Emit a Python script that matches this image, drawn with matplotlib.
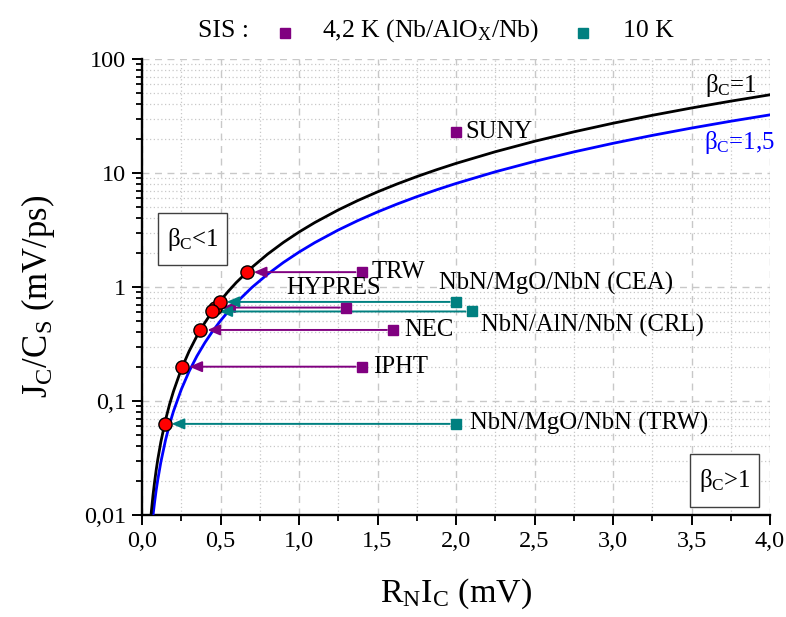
import matplotlib
matplotlib.use("Agg")
import matplotlib.pyplot as plt
from matplotlib.ticker import FixedLocator, FuncFormatter, MultipleLocator, LogLocator
from matplotlib.lines import Line2D
from matplotlib.patches import Rectangle

plt.rcParams['font.family'] = ['Liberation Serif', 'DejaVu Serif']
plt.rcParams['mathtext.fontset'] = 'custom'
plt.rcParams['mathtext.rm'] = 'Liberation Serif'
plt.rcParams['mathtext.it'] = 'Liberation Serif:italic'
plt.rcParams['mathtext.bf'] = 'Liberation Serif:bold'

# ---- data ----
curve_x = [0.05, 0.06, 0.07, 0.08, 0.09, 0.10, 0.12, 0.15, 0.175, 0.20, 0.25, 0.30, 0.35,
           0.40, 0.45, 0.50, 0.55, 0.60, 0.70, 0.80, 0.90, 1.00, 1.10, 1.25, 1.375, 1.50,
           1.625, 1.75, 1.875, 2.00, 2.25, 2.50, 2.75, 3.00, 3.25, 3.50, 3.75, 4.00]
beta1_y = [0.0076, 0.0109, 0.0149, 0.0194, 0.0246, 0.0304, 0.0437, 0.0683, 0.0929, 0.121,
           0.190, 0.273, 0.372, 0.486, 0.615, 0.759, 0.918, 1.093, 1.487, 1.942, 2.458, 3.035,
           3.672, 4.742, 5.738, 6.829, 8.014, 9.295, 10.67, 12.14, 15.36, 18.97, 22.95, 27.32,
           32.06, 37.18, 42.68, 48.56]
beta15_y = [0.0051, 0.0073, 0.0099, 0.0129, 0.0164, 0.0202, 0.0291, 0.0455, 0.0620, 0.0809,
            0.126, 0.182, 0.248, 0.324, 0.410, 0.506, 0.612, 0.728, 0.991, 1.295, 1.639, 2.023,
            2.448, 3.161, 3.825, 4.552, 5.342, 6.196, 7.112, 8.092, 10.24, 12.64, 15.30, 18.21,
            21.37, 24.78, 28.45, 32.37]

nb_names = ['TRW', 'HYPRES', 'NEC', 'IPHT', 'SUNY']
nb_rnic = [1.40, 1.30, 1.60, 1.40, 2.00]
nb_jc = [1.35, 0.66, 0.42, 0.20, 23.0]
nb_proj_x = [0.667, 0.466, 0.372, 0.257, None]

nbn_names = ['NbN/MgO/NbN (CEA)', 'NbN/AlN/NbN (CRL)', 'NbN/MgO/NbN (TRW)']
nbn_rnic = [2.00, 2.10, 2.00]
nbn_jc = [0.74, 0.61, 0.063]
nbn_proj_x = [0.494, 0.448, 0.144]

x_ticks = [0.0, 0.5, 1.0, 1.5, 2.0, 2.5, 3.0, 3.5, 4.0]
y_ticks = [0.01, 0.1, 1, 10, 100]

PURPLE = '#800080'
TEAL = '#008080'

fig = plt.figure(figsize=(7.86, 6.17), dpi=100)
ax = fig.add_axes([142/786, 1-515/617, 628/786, 456/617])

ax.set_yscale('log')
ax.set_xlim(0, 4)
ax.set_ylim(0.01, 100)

ax.plot(curve_x, beta15_y, color='#0000ff', lw=2.0, zorder=3)
ax.plot(curve_x, beta1_y, color='black', lw=2.0, zorder=3)

# grid
ax.xaxis.set_major_locator(FixedLocator(x_ticks))
ax.xaxis.set_minor_locator(MultipleLocator(0.25))
ax.yaxis.set_major_locator(FixedLocator(y_ticks))
ax.yaxis.set_minor_locator(LogLocator(base=10, subs=range(2, 10)))
ax.grid(which='major', color='#c8c8c8', ls=(0, (5, 4)), lw=1.0)
ax.grid(which='minor', color='#c8c8c8', ls=(0, (1, 2)), lw=0.9)
ax.set_axisbelow(True)

ax.xaxis.set_major_formatter(FuncFormatter(lambda v, p: f'{v:.1f}'.replace('.', ',')))
ax.yaxis.set_major_formatter(FuncFormatter(lambda v, p: f'{v:g}'.replace('.', ',')))
ax.yaxis.set_minor_formatter(FuncFormatter(lambda v, p: ''))

for s in ['top', 'right']:
    ax.spines[s].set_visible(False)
for s in ['left', 'bottom']:
    ax.spines[s].set_linewidth(1.7)
ax.tick_params(which='major', direction='out', length=7.5, width=1.4, labelsize=17.5, pad=4)
ax.tick_params(which='minor', direction='out', length=4.5, width=1.3)

def arrow(xs, xc, y, color):
    ax.annotate('', xy=(xc, y), xytext=(xs, y),
                arrowprops=dict(arrowstyle='-|>,head_length=0.75,head_width=0.32',
                                color=color, lw=1.4, shrinkA=4.5, shrinkB=5),
                zorder=4)

for xs, y, xc in zip(nb_rnic, nb_jc, nb_proj_x):
    if xc is not None:
        arrow(xs, xc, y, PURPLE)
for xs, y, xc in zip(nbn_rnic, nbn_jc, nbn_proj_x):
    arrow(xs, xc, y, TEAL)

ax.plot(nb_rnic, nb_jc, 's', color=PURPLE, ms=7.5, ls='none', zorder=5, clip_on=False)
ax.plot(nbn_rnic, nbn_jc, 's', color=TEAL, ms=7.5, ls='none', zorder=5, clip_on=False)

proj_x = [v for v in nb_proj_x if v is not None] + nbn_proj_x
proj_y = [y for y, v in zip(nb_jc, nb_proj_x) if v is not None] + nbn_jc
ax.plot(proj_x, proj_y, 'o', mfc='#ff0000', mec='black', mew=1.0, ms=9.5, ls='none', zorder=6)

# labels of points (offsets in points)
lab_off = {
    'TRW': (7, 0, 'left'), 'HYPRES': (-9, 14, 'center'), 'NEC': (8, 0, 'left'),
    'IPHT': (8, 0, 'left'), 'SUNY': (7, 0, 'left'),
    'NbN/MgO/NbN (CEA)': (-12, 13, 'left'), 'NbN/AlN/NbN (CRL)': (7, -10, 'left'),
    'NbN/MgO/NbN (TRW)': (10, 0, 'left'),
}
for n, xs, y in list(zip(nb_names, nb_rnic, nb_jc)) + list(zip(nbn_names, nbn_rnic, nbn_jc)):
    dx, dy, ha = lab_off[n]
    ax.annotate(n, xy=(xs, y), xytext=(dx, dy), textcoords='offset points',
                ha=ha, va='center', fontsize=17.8, zorder=7)

ax.text(3.585, 51, r'β$_\mathregular{C}$=1', fontsize=17.8, color='black', va='baseline', ha='left')
ax.text(3.58, 16.3, r'β$_\mathregular{C}$=1,5', fontsize=17.8, color='#0000ff', va='baseline', ha='left')

# boxes
for (x0, y0, w, h, t) in [(0.0255, 0.548, 0.110, 0.114, r'β$_\mathregular{C}$<1'),
                          (0.873, 0.0175, 0.109, 0.1165, r'β$_\mathregular{C}$>1')]:
    ax.add_patch(Rectangle((x0, y0), w, h, transform=ax.transAxes, fill=True,
                           fc='white', ec='#404040', lw=1.0, zorder=6))
    ax.text(x0 + w/2, y0 + h/2, t, transform=ax.transAxes, ha='center', va='center',
            fontsize=17.8, zorder=7)

# axis labels
fig.text(38/786, 1-296/617, r'J$_\mathregular{C}$/C$_\mathregular{S}$ (mV/ps)', rotation=90,
         ha='center', va='center', fontsize=25)
fig.text(456/786, 1-594/617, r'R$_\mathregular{N}$I$_\mathregular{C}$ (mV)',
         ha='center', va='center', fontsize=24.5)

# top legend
ly = 1 - 37/617
fig.text(198/786, ly, 'SIS :', fontsize=18.5, va='baseline', ha='left')
fig.add_artist(Line2D([285/786], [1-33/617], marker='s', color=PURPLE, ms=7, ls='none'))
fig.text(322/786, ly, r'4,2 K (Nb/AlO$_\mathregular{X}$/Nb)', fontsize=18.5, va='baseline', ha='left')
fig.add_artist(Line2D([583/786], [1-33/617], marker='s', color=TEAL, ms=7, ls='none'))
fig.text(623/786, ly, '10 K', fontsize=18.5, va='baseline', ha='left')

fig.savefig('out.png', dpi=100)
